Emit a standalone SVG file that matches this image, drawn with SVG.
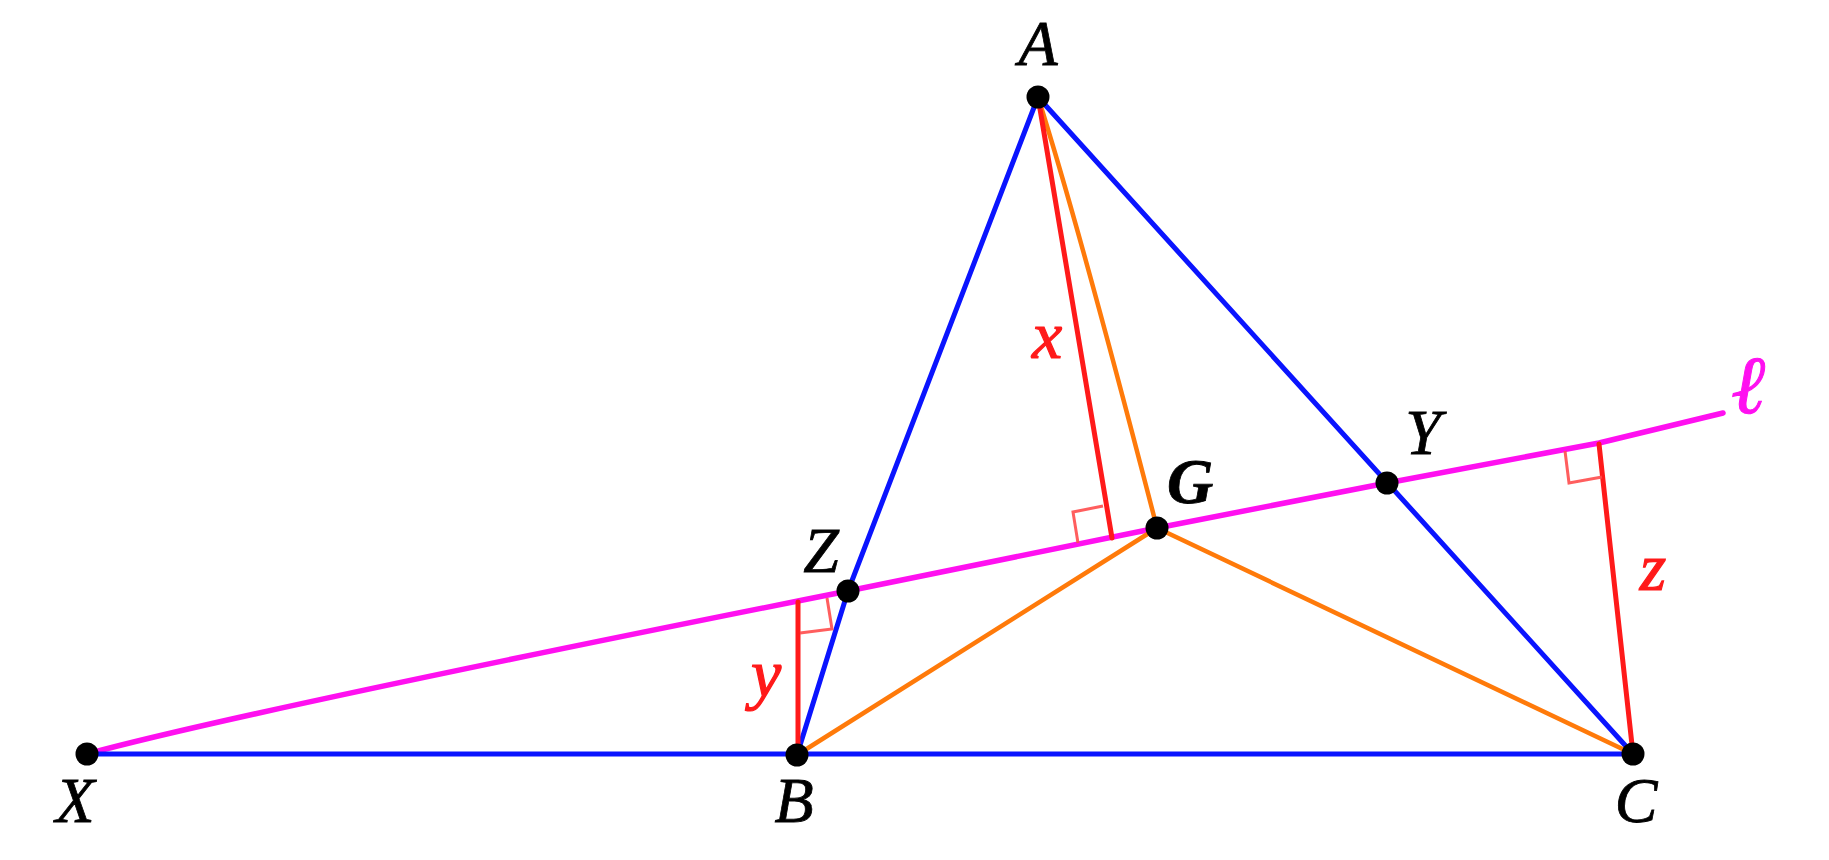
<svg xmlns="http://www.w3.org/2000/svg" width="1829" height="860" viewBox="0 0 1829 860">
<style>
.bl{stroke:#0a14ff;stroke-width:5;fill:none;stroke-linecap:round;stroke-linejoin:round}
.rd{stroke:#ff1a1a;stroke-width:5;fill:none;stroke-linecap:round}
.or{stroke:#ff7a0a;stroke-width:4.5;fill:none;stroke-linecap:round}
.mg{stroke:#ff10f0;stroke-width:5.5;fill:none;stroke-linecap:round;stroke-linejoin:round}
.ra{stroke:#ff4d4d;stroke-width:3;fill:none;opacity:0.9}
.pt{fill:#000}
.lb{font-family:"Liberation Serif","Times New Roman",serif;font-style:italic;font-size:64px;fill:#000;stroke:#000;stroke-width:0.8;text-anchor:middle}
.lr{font-family:"Liberation Serif","Times New Roman",serif;font-style:italic;font-size:68px;fill:#ff1a1a;stroke:#ff1a1a;stroke-width:1.2;text-anchor:middle}
</style>
<rect width="1829" height="860" fill="#fff"/>
<g id="connectors">
<path class="mg" d="M87,754 Q241,712 848,591 L1157,528 L1387,483 L1599,443 L1723,413"/>
<line class="bl" x1="87" y1="754" x2="1633" y2="754"/>
<polyline class="bl" points="1038,97 848,591 797,755"/>
<line class="bl" x1="1038" y1="97" x2="1633" y2="754"/>
<path class="or" d="M1038,97 Q1080,230 1157,528"/>
<line class="or" x1="797" y1="755" x2="1157" y2="528"/>
<line class="or" x1="1157" y1="528" x2="1633" y2="754"/>
<line class="rd" x1="1038" y1="97" x2="1112" y2="538"/>
<line class="rd" x1="798" y1="754" x2="798" y2="602"/>
<line class="rd" x1="1633" y1="754" x2="1599" y2="444"/>
<polyline class="ra" points="1103,506 1073,512 1078,543"/>
<polyline class="ra" points="800,633 832,629 827,598"/>
<polyline class="ra" points="1602,477 1569,483 1565,451"/>
</g>
<g id="node-A"><circle class="pt" cx="1038" cy="97" r="11.5"/><text class="lb" x="1038" y="65">A</text></g>
<g id="node-B"><circle class="pt" cx="797" cy="755" r="11.5"/><text class="lb" x="794" y="822">B</text></g>
<g id="node-C"><circle class="pt" cx="1633" cy="754" r="11.5"/><text class="lb" x="1636" y="822">C</text></g>
<g id="node-X"><circle class="pt" cx="87" cy="754" r="11.5"/><text class="lb" x="75" y="822">X</text></g>
<g id="node-Y"><circle class="pt" cx="1387" cy="483" r="11.5"/><text class="lb" x="1423" y="454">Y</text></g>
<g id="node-Z"><circle class="pt" cx="848" cy="591" r="11.5"/><text class="lb" x="821" y="572">Z</text></g>
<g id="node-G"><circle class="pt" cx="1157" cy="528" r="11.5"/><text class="lb" x="1190" y="503" font-weight="bold">G</text></g>
<g id="labels">
<text class="lr" x="1047" y="358">x</text>
<text class="lr" x="766" y="697">y</text>
<text class="lr" x="1653" y="590">z</text>
<text class="lr" x="1748" y="413" style="font-size:82px;fill:#ff10f0;stroke:#ff10f0;stroke-width:1">ℓ</text>
</g>
</svg>
